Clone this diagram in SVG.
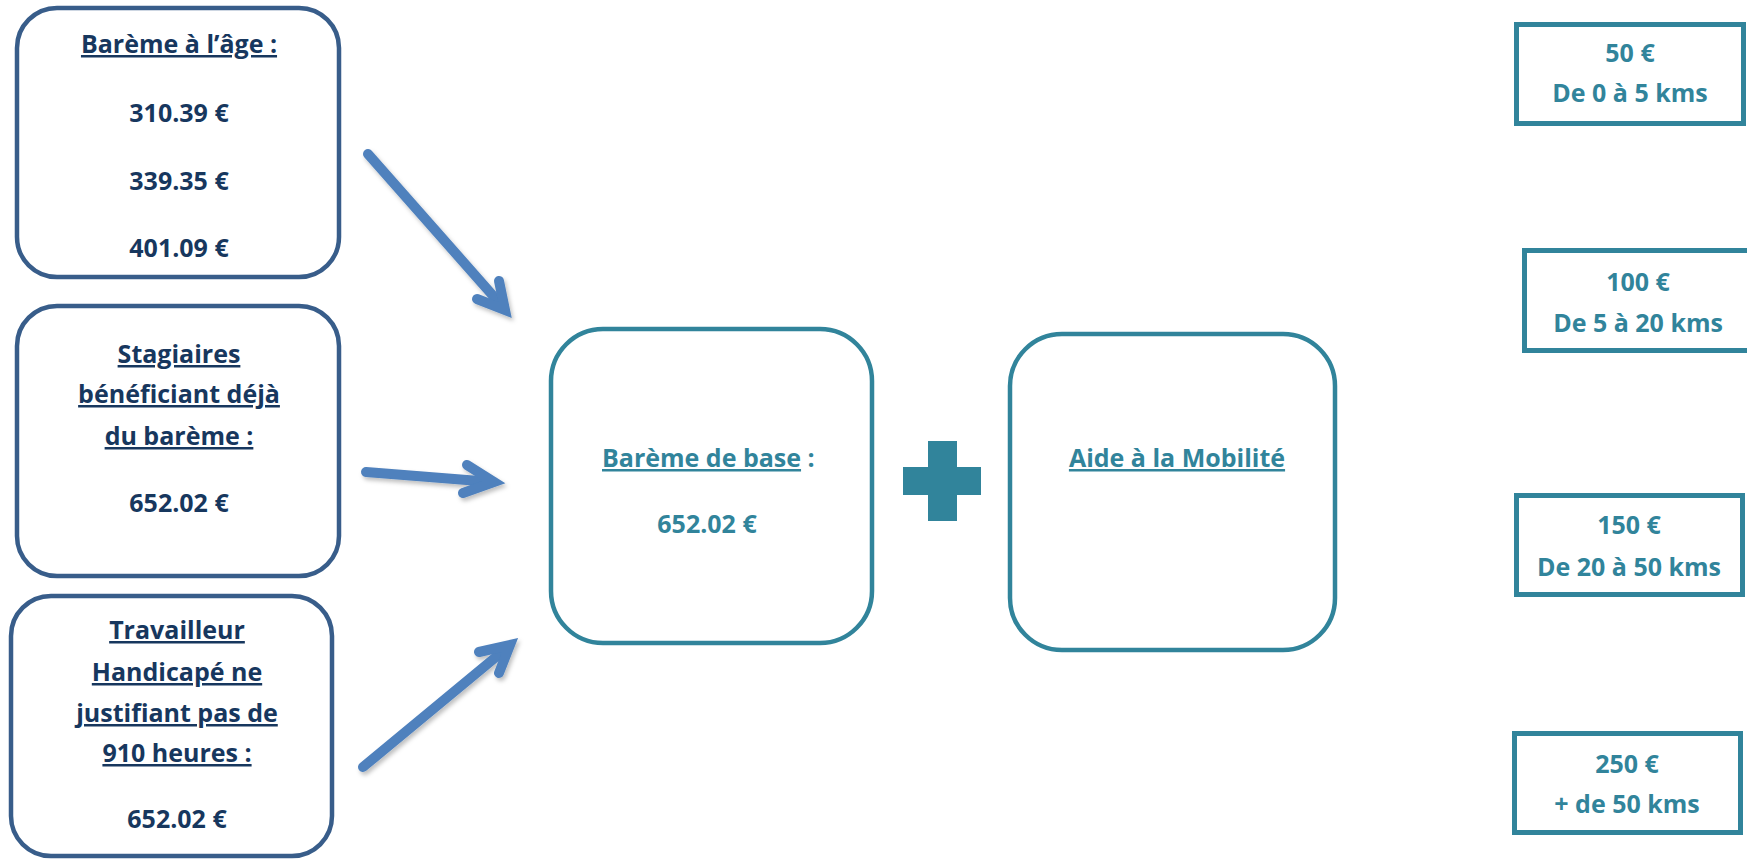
<svg xmlns="http://www.w3.org/2000/svg" width="1747" height="859" viewBox="0 0 1747 859">
<style>
text{font-family:"Open Sans","Liberation Sans",sans-serif;font-weight:700;font-size:25px;text-anchor:middle}
.navy{fill:#17375E}
.teal{fill:#31849B}
.u{text-decoration:underline}
.lbox{fill:#FFFFFF;stroke:#385D8A;stroke-width:4.5}
.cbox{fill:#FFFFFF;stroke:#31849B;stroke-width:4.5}
.sbox{fill:#FFFFFF;stroke:#31849B;stroke-width:5}
.arrow{fill:none;stroke:#4F81BD;stroke-width:10;stroke-linecap:round;stroke-linejoin:miter;stroke-miterlimit:10}
</style>
<defs>
<filter id="sh" x="-20%" y="-20%" width="140%" height="140%">
<feDropShadow dx="2" dy="3" stdDeviation="2" flood-color="#000000" flood-opacity="0.25"/>
</filter>
</defs>
<rect width="1747" height="859" fill="#FFFFFF"/>

<g id="bareme-age">
<rect class="lbox" x="17" y="8" width="322" height="269" rx="40"/>
<text class="navy u" x="179" y="53">Barème à l’âge :</text>
<text class="navy" x="179" y="122">310.39 €</text>
<text class="navy" x="179" y="190">339.35 €</text>
<text class="navy" x="179" y="257">401.09 €</text>
</g>

<g id="stagiaires">
<rect class="lbox" x="17" y="306" width="322" height="270" rx="40"/>
<text class="navy u" x="179" y="363">Stagiaires</text>
<text class="navy u" x="179" y="403">bénéficiant déjà</text>
<text class="navy u" x="179" y="445">du barème :</text>
<text class="navy" x="179" y="512">652.02 €</text>
</g>

<g id="travailleur">
<rect class="lbox" x="11" y="596" width="321" height="260" rx="40"/>
<text class="navy u" x="177" y="639">Travailleur</text>
<text class="navy u" x="177" y="681">Handicapé ne</text>
<text class="navy u" x="177" y="722">justifiant pas de</text>
<text class="navy u" x="177" y="762">910 heures :</text>
<text class="navy" x="177" y="828">652.02 €</text>
</g>

<g id="bareme-base">
<rect class="cbox" x="551" y="329" width="321" height="314" rx="52"/>
<text class="teal" x="602" y="467" style="text-anchor:start"><tspan class="u">Barème de base</tspan> :</text>
<text class="teal" x="707" y="533">652.02 €</text>
</g>

<g id="plus">
<path fill="#31849B" d="M928 441 H957 V467 H981 V495 H957 V521 H928 V495 H903 V467 H928 Z"/>
</g>

<g id="aide-mobilite">
<rect class="cbox" x="1010" y="334" width="325" height="316" rx="52"/>
<text class="teal u" x="1177" y="467">Aide à la Mobilité</text>
</g>

<g id="km-0-5">
<rect class="sbox" x="1516.5" y="24.5" width="227" height="99"/>
<text class="teal" x="1630" y="62">50 €</text>
<text class="teal" x="1630" y="102">De 0 à 5 kms</text>
</g>

<g id="km-5-20">
<rect class="sbox" x="1524.5" y="250.5" width="232" height="100"/>
<text class="teal" x="1638" y="291">100 €</text>
<text class="teal" x="1638" y="332">De 5 à 20 kms</text>
</g>

<g id="km-20-50">
<rect class="sbox" x="1516.5" y="495.5" width="226" height="99"/>
<text class="teal" x="1629" y="534">150 €</text>
<text class="teal" x="1629" y="576">De 20 à 50 kms</text>
</g>

<g id="km-50-plus">
<rect class="sbox" x="1514.5" y="733.5" width="226" height="99"/>
<text class="teal" x="1627" y="773">250 €</text>
<text class="teal" x="1627" y="813">+ de 50 kms</text>
</g>

<g id="connectors" filter="url(#sh)">
<path class="arrow" d="M368 154 L503 307"/>
<path class="arrow" d="M477 299 L505 310 L499 281"/>
<path class="arrow" d="M366 472 L492 482"/>
<path class="arrow" d="M467 465 L494 482 L463 493"/>
<path class="arrow" d="M363 767 L508 647"/>
<path class="arrow" d="M479 652 L510 645 L499 673"/>
</g>
</svg>
